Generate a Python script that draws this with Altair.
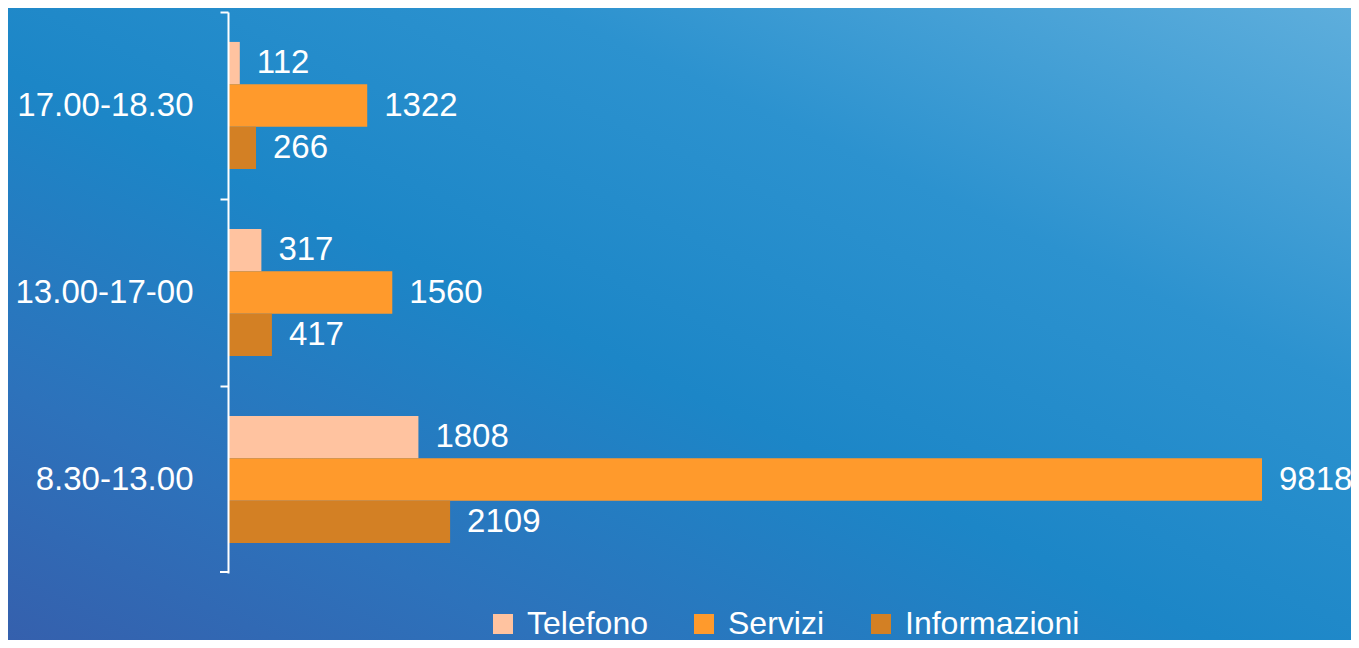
import altair as alt
import pandas as pd

categories = ["17.00-18.30", "13.00-17-00", "8.30-13.00"]
series = ["Telefono", "Servizi", "Informazioni"]
telefono = [112, 317, 1808]
servizi = [1322, 1560, 9818]
informazioni = [266, 417, 2109]
colors = ["#FFC3A0", "#FF9A2C", "#D38024"]

rows = []
for i, c in enumerate(categories):
    for s, vals in zip(series, [telefono, servizi, informazioni]):
        rows.append({"fascia": c, "serie": s, "valore": vals[i]})
df = pd.DataFrame(rows)

W, H = 1034, 561
STEP = H / len(categories)
PAD = {"left": 220, "top": 4, "right": 89, "bottom": 67}

bg = alt.Chart(alt.Data(values=[{"a": 1}])).mark_rect(
    fill=alt.Gradient(
        gradient="linear", x1=1, y1=0, x2=0, y2=1,
        stops=[
            alt.GradientStop(offset=0, color="#5eaedc"),
            alt.GradientStop(offset=0.3, color="#2c92cf"),
            alt.GradientStop(offset=0.55, color="#1c86c7"),
            alt.GradientStop(offset=0.8, color="#2d72bb"),
            alt.GradientStop(offset=1, color="#3560ad"),
        ],
    )
).encode(
    x=alt.value(-PAD["left"]), x2=alt.value(W + PAD["right"]),
    y=alt.value(-PAD["top"]), y2=alt.value(H + PAD["bottom"]),
)

# closing tick at the bottom end of the category axis
end_tick = alt.Chart(alt.Data(values=[{"a": 1}])).mark_rule(
    color="white", strokeWidth=2
).encode(x=alt.value(-8), x2=alt.value(0), y=alt.value(H - 1))

base = alt.Chart(df).encode(
    y=alt.Y("fascia:N", sort=categories, title=None,
            scale=alt.Scale(paddingInner=0.32, paddingOuter=0.16),
            axis=alt.Axis(domainColor="white", domainWidth=2, tickColor="white",
                          tickWidth=2, tickSize=8,
                          tickOffset=-STEP / 2, labelOffset=STEP / 2,
                          labelColor="white", labelFontSize=33, labelPadding=27,
                          labelFont="Liberation Sans", grid=False, zindex=2,
                          labelLimit=300)),
    yOffset=alt.YOffset("serie:N", sort=series, scale=alt.Scale(paddingInner=0, paddingOuter=0)),
    x=alt.X("valore:Q", axis=None, scale=alt.Scale(domain=[0, 9818], nice=False, zero=True)),
)

bars = base.mark_bar().encode(
    color=alt.Color("serie:N", sort=series,
                    scale=alt.Scale(domain=series, range=colors),
                    legend=alt.Legend(title=None, orient="none", direction="horizontal",
                                      legendX=259, legendY=596,
                                      symbolType="square", symbolSize=400,
                                      symbolStrokeWidth=0, symbolOpacity=1,
                                      labelColor="white", labelFontSize=32,
                                      labelFont="Liberation Sans", labelLimit=400,
                                      columnPadding=40, labelOffset=8, zindex=2))
)

text = base.mark_text(align="left", baseline="middle", dx=17, color="white",
                      fontSize=33, font="Liberation Sans").encode(text="valore:Q")

chart = alt.layer(bg, bars, text, end_tick).properties(
    width=W, height=H,
    padding=PAD,
    autosize=alt.AutoSizeParams(type="none"),
    background="#1d84c5",
).configure_view(stroke=None)

chart.save("out.html", embed_options={"renderer": "svg", "actions": False})
